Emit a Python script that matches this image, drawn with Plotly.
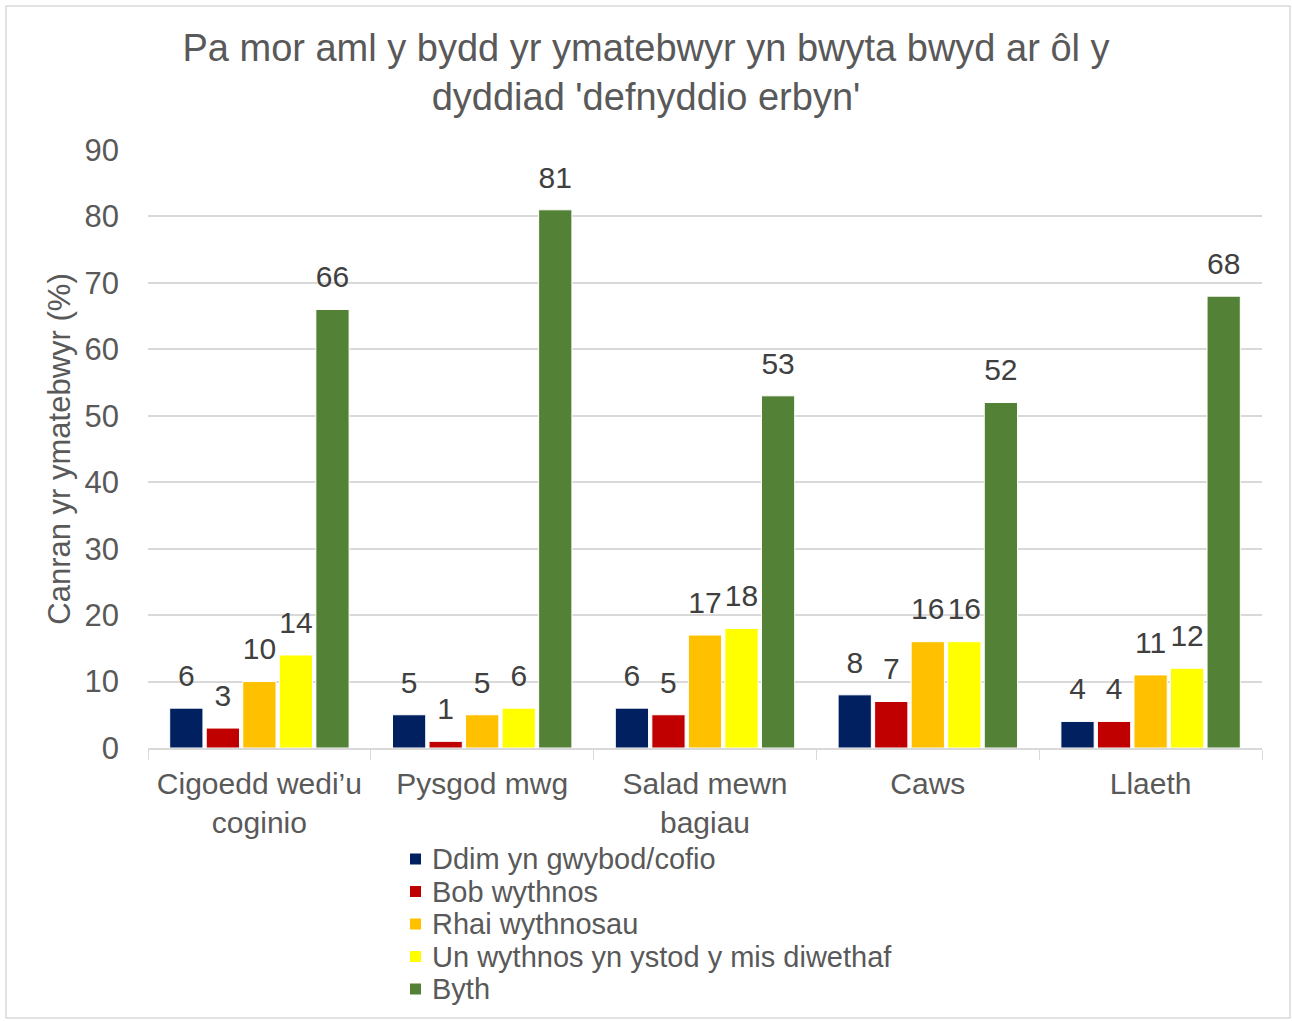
import plotly.graph_objects as go

categories = ["Cigoedd wedi’u<br>coginio", "Pysgod mwg", "Salad mewn<br>bagiau", "Caws", "Llaeth"]
series_names = ["Ddim yn gwybod/cofio", "Bob wythnos", "Rhai wythnosau",
                "Un wythnos yn ystod y mis diwethaf", "Byth"]
ddim = [6, 5, 6, 8, 4]
bob = [3, 1, 5, 7, 4]
rhai = [10, 5, 17, 16, 11]
un = [14, 6, 18, 16, 12]
byth = [66, 81, 53, 52, 68]
colors = ["#002060", "#C00000", "#FFC000", "#FFFF00", "#538135"]
y_ticks = [0, 10, 20, 30, 40, 50, 60, 70, 80, 90]
title_text = "Pa mor aml y bydd yr ymatebwyr yn bwyta bwyd ar ôl y<br>dyddiad 'defnyddio erbyn'"
y_title = "Canran yr ymatebwyr (%)"

W, H = 1292, 1021
L, R, T, B = 148, 30, 150, 273
FONT = "Liberation Sans, Arial"
GREY = "#595959"

pw = W - L - R
ph = H - T - B
def px(x):
    return (x - L) / pw
def py(y):
    return (H - B - y) / ph

fig = go.Figure()
all_vals = [ddim, bob, rhai, un, byth]
for i, (name, vals, col) in enumerate(zip(series_names, all_vals, colors)):
    fig.add_trace(go.Bar(
        x=categories, y=vals, name=name, offsetgroup=str(i),
        marker=dict(color=col, line=dict(color="white", width=1)),
        showlegend=False, cliponaxis=False,
    ))
for i, (name, vals) in enumerate(zip(series_names, all_vals)):
    fig.add_trace(go.Scatter(
        x=categories, y=vals, name=name + " labels", offsetgroup=str(i),
        mode="markers+text", marker=dict(size=22, opacity=0, color="white"),
        text=[str(v) for v in vals], textposition="top center",
        textfont=dict(size=30, color="#404040", family=FONT),
        showlegend=False, cliponaxis=False, hoverinfo="skip",
    ))

# manual legend (text + swatches)
annotations = []
shapes = []
legend_top = 859
legend_step = 32.5
for i, (name, col) in enumerate(zip(series_names, colors)):
    yc = legend_top + i * legend_step
    annotations.append(dict(text=name, xref="paper", yref="paper", x=px(430), y=py(yc),
                            xanchor="left", yanchor="middle", showarrow=False,
                            font=dict(size=29, color=GREY, family=FONT)))
    shapes.append(dict(type="rect", xref="paper", yref="paper",
                       x0=px(410), x1=px(421), y0=py(yc + 5.5), y1=py(yc - 5.5),
                       fillcolor=col, line=dict(width=0)))

shapes.append(dict(type="rect", xref="paper", yref="paper",
                   x0=px(6), x1=px(1290), y0=py(1018), y1=py(6),
                   line=dict(color="#D9D9D9", width=1.5), fillcolor="rgba(0,0,0,0)", layer="below"))

fig.update_layout(
    width=W, height=H,
    margin=dict(l=L, r=R, t=T, b=B),
    paper_bgcolor="white", plot_bgcolor="white",
    font=dict(family=FONT, color=GREY, size=30),
    title=dict(text=title_text, x=0.5, xanchor="center", xref="container",
               y=1 - 61 / H, yanchor="middle",
               font=dict(size=38, color=GREY, family=FONT)),
    barmode="group", bargap=0.18, bargroupgap=0.09,
    scattermode="group", scattergap=0.18,
    showlegend=False,
    xaxis=dict(type="category", tickson="boundaries", ticks="outside", ticklen=10,
               tickcolor="#D9D9D9", showline=True, linecolor="#D9D9D9", linewidth=1.5,
               showgrid=False, ticklabelstandoff=8,
               tickfont=dict(size=30, color=GREY, family=FONT)),
    yaxis=dict(range=[0, 90], tickvals=y_ticks, showgrid=True, gridcolor="#D9D9D9",
               gridwidth=1.5, zeroline=False, showline=False, ticks="",
               ticklabelstandoff=28,
               tickfont=dict(size=31, color=GREY, family=FONT),
               title=dict(text=y_title, font=dict(size=31, color=GREY, family=FONT),
                          standoff=4)),
    annotations=annotations,
    shapes=shapes,
)

fig.write_html("out.html", config={"displayModeBar": False},
               post_script="document.body.style.margin='0';")
